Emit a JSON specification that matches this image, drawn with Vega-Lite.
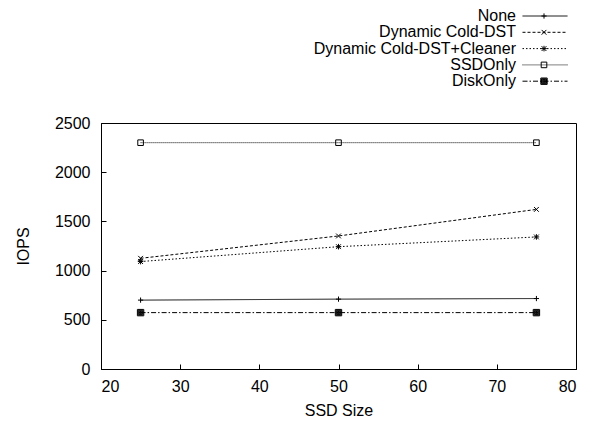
{
  "$schema": "https://vega.github.io/schema/vega-lite/v6.json",
  "width": 475,
  "height": 246,
  "autosize": {"type": "none"},
  "padding": {"left": 101, "top": 123, "right": 20, "bottom": 57},
  "background": "white",
  "config": {
    "font": "Liberation Sans",
    "view": {"stroke": "black", "strokeWidth": 1},
    "axis": {
      "domainColor": "black", "domainWidth": 1,
      "tickColor": "black", "tickSize": -5, "tickWidth": 1,
      "labelColor": "black", "labelFontSize": 16, "labelFont": "Liberation Sans",
      "titleColor": "black", "titleFontSize": 16, "titleFont": "Liberation Sans", "titleFontWeight": "normal",
      "grid": false
    }
  },
  "data": {
    "values": [
      {"series": "None", "ssd": 25, "iops": 700},
      {"series": "None", "ssd": 50, "iops": 710},
      {"series": "None", "ssd": 75, "iops": 716},
      {"series": "Dynamic Cold-DST", "ssd": 25, "iops": 1125},
      {"series": "Dynamic Cold-DST", "ssd": 50, "iops": 1352},
      {"series": "Dynamic Cold-DST", "ssd": 75, "iops": 1622},
      {"series": "Dynamic Cold-DST+Cleaner", "ssd": 25, "iops": 1092},
      {"series": "Dynamic Cold-DST+Cleaner", "ssd": 50, "iops": 1243},
      {"series": "Dynamic Cold-DST+Cleaner", "ssd": 75, "iops": 1342},
      {"series": "SSDOnly", "ssd": 25, "iops": 2300},
      {"series": "SSDOnly", "ssd": 50, "iops": 2300},
      {"series": "SSDOnly", "ssd": 75, "iops": 2300},
      {"series": "DiskOnly", "ssd": 25, "iops": 573},
      {"series": "DiskOnly", "ssd": 50, "iops": 573},
      {"series": "DiskOnly", "ssd": 75, "iops": 573}
    ]
  },
  "encoding": {
    "x": {
      "field": "ssd", "type": "quantitative",
      "scale": {"domain": [20, 80], "nice": false},
      "axis": {"values": [20, 30, 40, 50, 60, 70, 80], "title": "SSD Size", "labelPadding": 14, "titlePadding": 8}
    },
    "y": {
      "field": "iops", "type": "quantitative",
      "scale": {"domain": [0, 2500], "nice": false},
      "axis": {"values": [0, 500, 1000, 1500, 2000, 2500], "format": "d", "title": "IOPS", "labelPadding": 16, "titlePadding": 23}
    }
  },
  "layer": [
    {
      "mark": {"type": "line", "color": "black", "strokeWidth": 1},
      "encoding": {
        "strokeDash": {
          "field": "series", "type": "nominal",
          "scale": {
            "domain": ["None", "Dynamic Cold-DST", "Dynamic Cold-DST+Cleaner", "SSDOnly", "DiskOnly"],
            "range": [[1, 0], [3, 2], [1.5, 2], [1, 1], [5, 2, 1.5, 2]]
          },
          "legend": {
            "orient": "none", "legendX": 436, "legendY": -115, "title": null,
            "symbolType": "M-4.5,0H4.5", "symbolSize": 100,
            "symbolStrokeWidth": 1, "symbolStrokeColor": "black",
            "labelAlign": "right", "labelOffset": -37, "labelFontSize": 16,
            "labelFont": "Liberation Sans", "labelColor": "black", "labelLimit": 400,
            "rowPadding": 0.3
          }
        }
      }
    },
    {
      "mark": {"type": "point", "filled": false, "stroke": "black", "strokeWidth": 1, "opacity": 1, "size": 64},
      "encoding": {
        "shape": {
          "field": "series", "type": "nominal", "sort": null,
          "scale": {
            "range": [
              "M-0.65,0H0.65M0,-0.65V0.65",
              "M-0.6,-0.6L0.6,0.6M-0.6,0.6L0.6,-0.6",
              "M-0.6,-0.6L0.6,0.6M-0.6,0.6L0.6,-0.6M-0.7,0H0.7M0,-0.7V0.7",
              "M-0.7,-0.7H0.7V0.7H-0.7Z",
              "M-0.8,-0.8H0.8V0.8H-0.8ZM-0.62,-0.62H0.62V0.62H-0.62ZM-0.44,-0.44H0.44V0.44H-0.44ZM-0.26,-0.26H0.26V0.26H-0.26ZM-0.1,-0.1H0.1V0.1H-0.1Z"
            ]
          },
          "legend": {
            "orient": "none", "legendX": 435, "legendY": -115, "title": null,
            "symbolSize": 64, "symbolStrokeColor": "black", "symbolStrokeWidth": 1,
            "labelExpr": "' '", "labelFontSize": 16, "labelFont": "Liberation Sans",
            "rowPadding": 0.3,
            "encode": {
              "symbols": {
                "update": {
                  "stroke": {"value": "black"},
                  "strokeWidth": {"value": 1},
                  "opacity": {"value": 1}
                }
              }
            }
          }
        }
      }
    }
  ],
  "resolve": {"legend": {"shape": "independent", "strokeDash": "independent"}}
}
